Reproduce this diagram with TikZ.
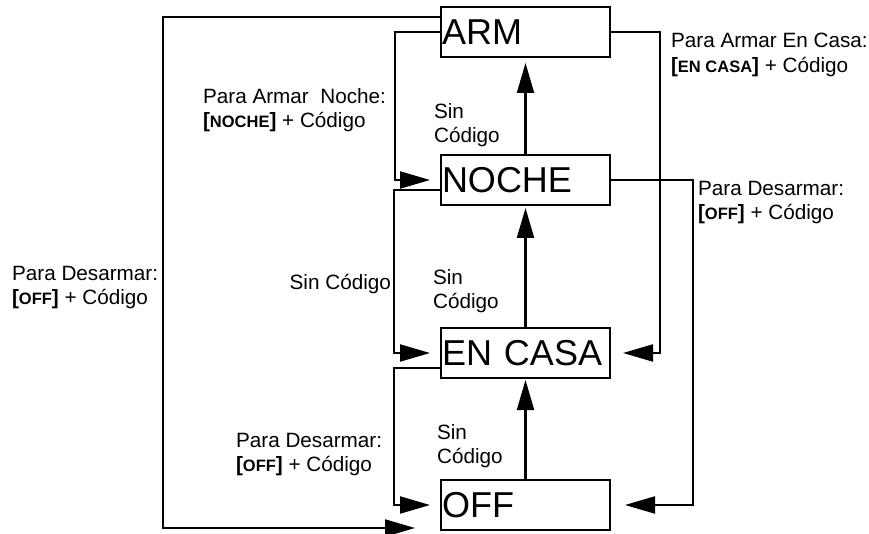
\documentclass[tikz,border=0pt]{standalone}
\usepackage{fontspec}
\setmainfont{Liberation Sans}
\usetikzlibrary{positioning,arrows.meta}
\newcommand{\tecla}[1]{\textbf{[}{\bfseries\fontsize{16.5}{16.5}\selectfont #1}\textbf{]}}

\begin{document}
\begin{tikzpicture}
    [x=1pt,y=-1pt,line width=2.1pt,>={Triangle[length=30pt,width=17pt]},
    state/.style={draw,rectangle,line width=2.6pt,text width=167pt,inner xsep=1pt,
      inner ysep=0pt,outer sep=0pt,minimum height=50pt,align=left,
      font=\fontsize{36}{40}\selectfont},
    note/.style={anchor=north west,align=left,inner sep=0pt,
      font=\fontsize{20.7}{24.5}\selectfont}]
    \useasboundingbox (0,0) rectangle (869,534);
    % states, top to bottom
    \node[state] (arm) at (525.5,32) {ARM};
    \node[state] (noche) [below=98pt of arm] {NOCHE};
    \node[state] (casa) [below=123pt of noche] {EN CASA};
    \node[state] (off) [below=102pt of casa] {OFF};
    % without code, going up
    \draw[->,shorten >=6pt] (noche) -- (arm);
    \draw[->,shorten >=3pt] (casa) -- (noche);
    \draw[->,shorten >=2pt] (off) -- (casa);
    % left side
    \draw[->,shorten >=11pt] (arm.west) -- ++(-46,0) |- (noche.west);
    \draw[->,shorten >=11pt] ([yshift=-10pt]noche.west) -- ++(-47,0) |- (casa.west);
    \draw[->,shorten >=11pt] ([yshift=-15pt]casa.west) -- ++(-47,0) |- (off.west);
    \coordinate (offtip) at ([xshift=-26pt,yshift=2pt]off.south west);
    \draw[->] ([yshift=15pt]arm.west) -- ++(-278,0) |- (offtip);
    % right side
    \draw[->,shorten >=13pt] (arm.east) -- ++(50,0) |- (casa.east);
    \draw[->,shorten >=15pt] (noche.east) -- ++(83,0) |- (off.east);
    % labels
    \node[note] (armnoche) at (202,87) {Para Armar~ Noche:\\\tecla{NOCHE} + Código};
    \node[note] (sin1) at (433,102) {Sin\\Código};
    \node[note] (armcasa) at (670,32) {Para Armar En Casa:\\\tecla{EN CASA} + Código};
    \node[note] (desr) at (697,180) {Para Desarmar:\\\tecla{OFF} + Código};
    \node[note] (desl) at (11,265) {Para Desarmar:\\\tecla{OFF} + Código};
    \node[note,anchor=base east] (sin2) at (392,290) {Sin Código};
    \node[note] (sin3) at (432,268) {Sin\\Código};
    \node[note] (desb) at (235,432) {Para Desarmar:\\\tecla{OFF} + Código};
    \node[note] (sin4) at (436,423) {Sin\\Código};
\end{tikzpicture}
\end{document}
